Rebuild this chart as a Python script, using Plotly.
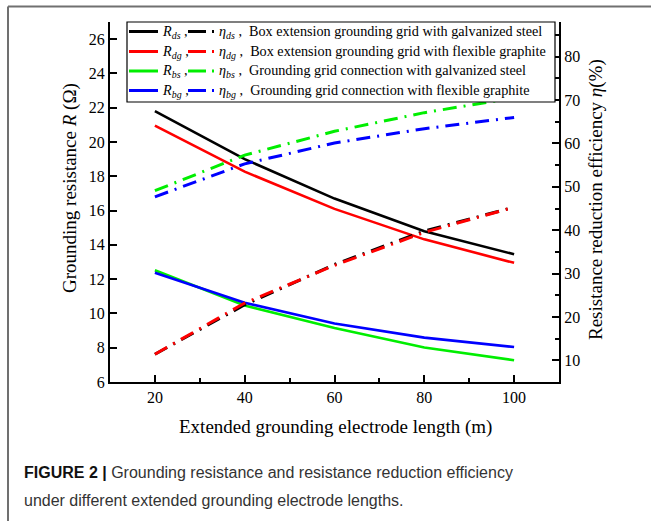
import plotly.graph_objects as go

# ---- data ----
length_m = [20, 40, 60, 80, 100]
R_ds = [21.8, 19.0, 16.7, 14.8, 13.45]
R_dg = [20.95, 18.27, 16.1, 14.32, 12.95]
R_bs = [12.52, 10.46, 9.15, 8.01, 7.27]
R_bg = [12.37, 10.62, 9.41, 8.59, 8.04]
eta_ds = [11.4, 22.8, 32.1, 39.8, 45.3]
eta_dg = [11.4, 23.2, 31.9, 39.5, 45.3]
eta_bs = [49.1, 57.3, 62.8, 67.1, 70.5]
eta_bg = [47.7, 55.3, 60.1, 63.4, 66.0]

series_names = ["ds", "dg", "bs", "bg"]
series_desc = [
    "Box extension grounding grid with galvanized steel",
    "Box extension grounding grid with flexible graphite",
    "Grounding grid connection with galvanized steel",
    "Grounding grid connection with flexible graphite",
]
colors = ["#000000", "#ff0000", "#00ee00", "#0000ff"]
R_all = [R_ds, R_dg, R_bs, R_bg]
eta_all = [eta_ds, eta_dg, eta_bs, eta_bg]

# ---- layout geometry (pixels) ----
W, H = 651, 521
PL, PR, PT, PB = 110, 559, 22, 382
pw, ph = PR - PL, PB - PT

def px(x):
    return (x - PL) / pw

def py(y):
    return (PB - y) / ph

SERIF = "Liberation Serif, Times New Roman, serif"
DASHDOT = "14px,7px,2px,7px"

fig = go.Figure()
for name, c, R in zip(series_names, colors, R_all):
    fig.add_trace(go.Scatter(x=length_m, y=R, mode="lines",
                             line=dict(color=c, width=2.6),
                             name="R" + name, showlegend=False))
for name, c, e in zip(series_names, colors, eta_all):
    fig.add_trace(go.Scatter(x=length_m, y=e, mode="lines", yaxis="y2",
                             line=dict(color=c, width=3, dash=DASHDOT),
                             name="eta" + name, showlegend=False))

shapes = []
annotations = []

# outer panel border (top and left)
shapes.append(dict(type="line", xref="paper", yref="paper",
                   x0=px(8), x1=px(W + 5), y0=py(6.5), y1=py(6.5),
                   line=dict(color="#707070", width=2)))
shapes.append(dict(type="line", xref="paper", yref="paper",
                   x0=px(8), x1=px(8), y0=py(6.5), y1=py(H + 5),
                   line=dict(color="#707070", width=2)))

# legend box
shapes.append(dict(type="rect", xref="paper", yref="paper",
                   x0=px(127), x1=px(555), y0=py(102), y1=py(22),
                   line=dict(color="#000000", width=1.2), fillcolor="white",
                   layer="above"))
row_y = [31.5, 51.5, 71, 90.5]
for i, (name, c, desc) in enumerate(zip(series_names, colors, series_desc)):
    yy = py(row_y[i])
    shapes.append(dict(type="line", xref="paper", yref="paper",
                       x0=px(129), x1=px(158), y0=yy, y1=yy,
                       line=dict(color=c, width=3), layer="above"))
    shapes.append(dict(type="line", xref="paper", yref="paper",
                       x0=px(188), x1=px(206), y0=yy, y1=yy,
                       line=dict(color=c, width=3), layer="above"))
    shapes.append(dict(type="line", xref="paper", yref="paper",
                       x0=px(212), x1=px(214), y0=yy, y1=yy,
                       line=dict(color=c, width=3), layer="above"))
    annotations.append(dict(xref="paper", yref="paper", x=px(160), y=yy,
                            xanchor="left", yanchor="middle", showarrow=False,
                            text="<i>R</i><sub><i>%s</i></sub> ," % name,
                            font=dict(family=SERIF, size=14.2, color="black")))
    annotations.append(dict(xref="paper", yref="paper", x=px(217), y=yy,
                            xanchor="left", yanchor="middle", showarrow=False,
                            text="<i>η</i><sub><i>%s</i></sub> ,  %s" % (name, desc),
                            font=dict(family=SERIF, size=14.2, color="black")))

# axis titles
annotations.append(dict(xref="paper", yref="paper", x=px(70), y=py(188),
                        xanchor="center", yanchor="middle", showarrow=False,
                        textangle=-90,
                        text="Grounding resistance <i>R</i> (Ω)",
                        font=dict(family=SERIF, size=19, color="black")))
annotations.append(dict(xref="paper", yref="paper", x=px(596), y=py(200),
                        xanchor="center", yanchor="middle", showarrow=False,
                        textangle=-90,
                        text="Resistance reduction efficiency <i>η</i>(%)",
                        font=dict(family=SERIF, size=19, color="black")))
annotations.append(dict(xref="paper", yref="paper", x=px(335), y=py(427),
                        xanchor="center", yanchor="middle", showarrow=False,
                        text="Extended grounding electrode length (m)",
                        font=dict(family=SERIF, size=19, color="black")))

# caption
CAP = "Liberation Sans, Arial, sans-serif"
annotations.append(dict(xref="paper", yref="paper", x=px(22), y=py(472),
                        xanchor="left", yanchor="middle", showarrow=False,
                        text="<b>FIGURE 2 |</b> <span style='color:#333333'>Grounding resistance and resistance reduction efficiency</span>",
                        font=dict(family=CAP, size=16, color="#111111")))
annotations.append(dict(xref="paper", yref="paper", x=px(22), y=py(500),
                        xanchor="left", yanchor="middle", showarrow=False,
                        text="under different extended grounding electrode lengths.",
                        font=dict(family=CAP, size=16, color="#333333")))

axis_common = dict(showgrid=False, zeroline=False, showline=True,
                   linecolor="black", linewidth=2, ticks="inside",
                   tickcolor="black", tickwidth=2, ticklen=7,
                   tickfont=dict(family=SERIF, size=16, color="black"))

fig.update_layout(
    width=W, height=H, autosize=False,
    margin=dict(l=PL, r=W - PR, t=PT, b=H - PB, pad=0),
    paper_bgcolor="white", plot_bgcolor="white",
    showlegend=False,
    xaxis=dict(range=[10, 110], tick0=20, dtick=20,
               minor=dict(dtick=10, tick0=10, ticks="inside", ticklen=4,
                          tickwidth=2, tickcolor="black"),
               **axis_common),
    yaxis=dict(range=[6, 27], tick0=6, dtick=2, **axis_common),
    yaxis2=dict(range=[5, 88], tick0=10, dtick=10, overlaying="y",
                side="right",
                minor=dict(dtick=5, tick0=5, ticks="inside", ticklen=4,
                           tickwidth=2, tickcolor="black"),
                **axis_common),
    shapes=shapes,
    annotations=annotations,
)

fig.write_html("out.html")
